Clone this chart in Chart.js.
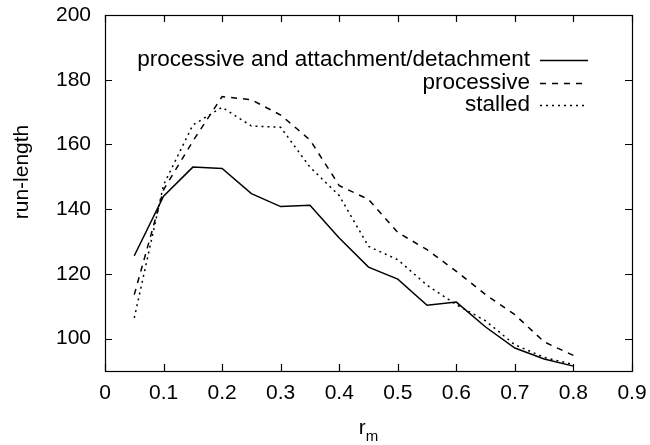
<!DOCTYPE html>
<html>
<head>
<meta charset="utf-8">
<script src="https://cdn.jsdelivr.net/npm/chart.js@4/dist/chart.umd.min.js"></script>
<style>
  html, body { margin: 0; padding: 0; background: #fff; }
  #wrap { width: 650px; height: 445px; }
</style>
</head>
<body>
<div id="wrap"><canvas id="c" width="650" height="445"></canvas></div>
<script>
// r_m values sampled along the x axis
const rm = [0.05, 0.10, 0.15, 0.20, 0.25, 0.30, 0.35, 0.40, 0.45, 0.50, 0.55, 0.60, 0.65, 0.70, 0.75, 0.80];

// mean run-length for each motor model
const runAttach     = [125.6, 144.0, 153.0, 152.6, 144.8, 140.8, 141.2, 131.1, 122.1, 118.4, 110.3, 111.3, 103.6, 97.1, 93.7, 91.5];
const runProcessive = [113.6, 146.0, 161.0, 174.8, 173.8, 169.1, 161.4, 147.3, 143.0, 132.8, 127.5, 120.8, 113.6, 107.4, 99.0, 94.8];
const runStalled    = [106.4, 147.5, 166.0, 171.5, 165.7, 165.3, 153.0, 144.2, 128.5, 124.4, 116.5, 110.5, 105.5, 98.1, 94.2, 92.0];

// series names
const seriesNames = ['processive and attachment/detachment', 'processive', 'stalled'];

// axis ticks
const xTicks = [0, 0.1, 0.2, 0.3, 0.4, 0.5, 0.6, 0.7, 0.8, 0.9];
const yTicks = [100, 120, 140, 160, 180, 200];

const FONT = '"Liberation Sans", Arial, Helvetica, sans-serif';
const FS = 21;
const KEY_FS = 22.5;

function pts(ys) { return rm.map((x, i) => ({ x: x, y: ys[i] })); }

// frame with inward ticks on all four sides, axis titles and the key
const gnuFrame = {
  id: 'gnuFrame',
  afterDatasetsDraw(chart) {
    const { ctx, chartArea: a, scales } = chart;
    const tl = 7;
    ctx.save();
    ctx.strokeStyle = '#000';
    ctx.lineWidth = 1.2;
    ctx.beginPath();
    xTicks.forEach(v => {
      const px = Math.round(scales.x.getPixelForValue(v)) + 0.5;
      ctx.moveTo(px, a.bottom); ctx.lineTo(px, a.bottom - tl);
      ctx.moveTo(px, a.top); ctx.lineTo(px, a.top + tl);
    });
    yTicks.forEach(v => {
      const py = Math.round(scales.y.getPixelForValue(v)) + 0.5;
      ctx.moveTo(a.left, py); ctx.lineTo(a.left + tl, py);
      ctx.moveTo(a.right, py); ctx.lineTo(a.right - tl, py);
    });
    ctx.stroke();
    ctx.strokeRect(Math.round(a.left) + 0.5, Math.round(a.top) + 0.5,
                   Math.round(a.right - a.left), Math.round(a.bottom - a.top));

    // key: right-aligned text followed by a line sample
    ctx.fillStyle = '#000';
    ctx.font = KEY_FS + 'px ' + FONT;
    ctx.textAlign = 'right';
    ctx.textBaseline = 'middle';
    const rows = [60, 83, 105];
    chart.data.datasets.forEach((ds, i) => {
      const y = rows[i];
      ctx.fillText(ds.label, 530, y);
      ctx.save();
      ctx.lineWidth = ds.borderWidth;
      ctx.setLineDash(ds.borderDash || []);
      ctx.beginPath();
      ctx.moveTo(540, y + 0.5);
      ctx.lineTo(588, y + 0.5);
      ctx.stroke();
      ctx.restore();
    });

    // y title
    ctx.save();
    ctx.translate(22, 172);
    ctx.rotate(-Math.PI / 2);
    ctx.textAlign = 'center';
    ctx.textBaseline = 'middle';
    ctx.font = FS + 'px ' + FONT;
    ctx.fillText('run-length', 0, 0);
    ctx.restore();

    // x title: r with subscript m
    const cx = (a.left + a.right) / 2;
    ctx.textAlign = 'left';
    ctx.textBaseline = 'alphabetic';
    ctx.font = FS + 'px ' + FONT;
    const wr = ctx.measureText('r').width;
    ctx.font = '15px ' + FONT;
    const wm = ctx.measureText('m').width;
    const x0 = cx - (wr + wm) / 2;
    ctx.font = FS + 'px ' + FONT;
    ctx.fillText('r', x0, 434);
    ctx.font = '15px ' + FONT;
    ctx.fillText('m', x0 + wr, 441);
    ctx.restore();
  }
};

const lineStyle = { borderColor: '#000', borderWidth: 1.5, pointRadius: 0, fill: false, tension: 0 };

function noOverflow(s) {
  s.paddingLeft = 0; s.paddingRight = 0; s.paddingTop = 0; s.paddingBottom = 0;
}

new Chart(document.getElementById('c'), {
  type: 'line',
  data: {
    datasets: [
      Object.assign({ label: seriesNames[0], data: pts(runAttach), borderDash: [] }, lineStyle),
      Object.assign({ label: seriesNames[1], data: pts(runProcessive), borderDash: [6, 6] }, lineStyle),
      Object.assign({ label: seriesNames[2], data: pts(runStalled), borderDash: [2, 4] }, lineStyle)
    ]
  },
  options: {
    responsive: false,
    animation: false,
    layout: { padding: { top: 15, right: 18, left: 0, bottom: 0 } },
    plugins: { legend: { display: false }, tooltip: { enabled: false } },
    scales: {
      x: {
        type: 'linear', min: 0, max: 0.9,
        afterBuildTicks(s) { s.ticks = xTicks.map(v => ({ value: v })); },
        afterFit(s) { s.height = 74; noOverflow(s); },
        grid: { display: false, drawTicks: false },
        border: { display: false },
        ticks: {
          padding: 10, color: '#000', maxRotation: 0, autoSkip: false,
          font: { family: FONT, size: FS },
          callback: v => (v === 0 ? '0' : v.toFixed(1))
        }
      },
      y: {
        type: 'linear', min: 90, max: 200,
        afterBuildTicks(s) { s.ticks = yTicks.map(v => ({ value: v })); },
        afterFit(s) { s.width = 105; noOverflow(s); },
        grid: { display: false, drawTicks: false },
        border: { display: false },
        ticks: {
          padding: 14, color: '#000', autoSkip: false,
          font: { family: FONT, size: FS },
          callback: v => String(v)
        }
      }
    }
  },
  plugins: [gnuFrame]
});
</script>
</body>
</html>
